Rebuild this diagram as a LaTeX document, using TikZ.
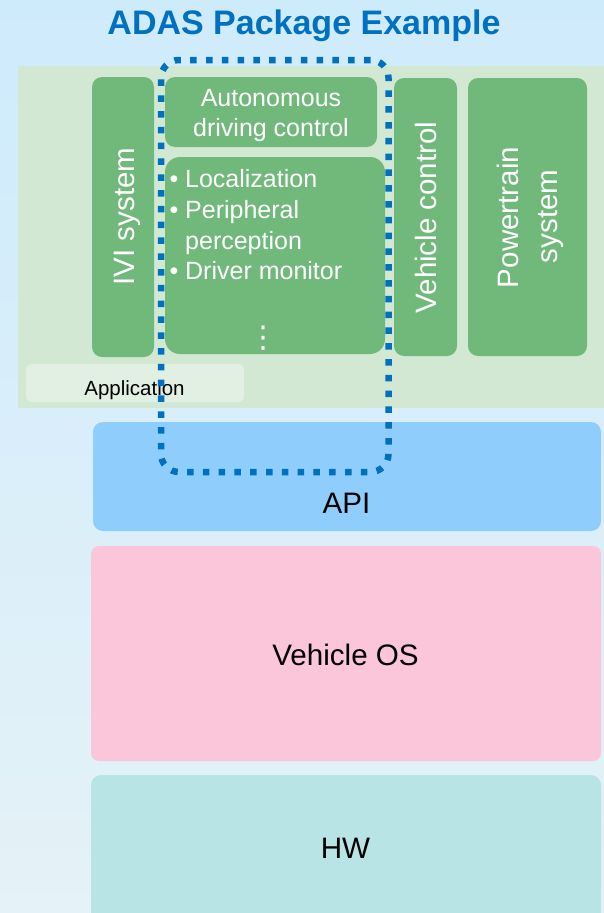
\documentclass[tikz,border=0pt]{standalone}
\usepackage{fontspec}
\setmainfont{Liberation Sans}
\newfontfamily\dejavu{DejaVu Sans}
\definecolor{bgtop}{RGB}{206,235,252}
\definecolor{bgbot}{RGB}{229,242,247}
\definecolor{appbg}{RGB}{210,232,211}
\definecolor{appgreen}{RGB}{112,185,123}
\definecolor{applabel}{RGB}{225,240,227}
\definecolor{apiblue}{RGB}{143,206,252}
\definecolor{ospink}{RGB}{251,198,218}
\definecolor{hwcyan}{RGB}{184,228,229}
\definecolor{adasblue}{RGB}{0,112,192}
\begin{document}
\begin{tikzpicture}[x=1pt,y=-1pt,
  box/.style={rectangle, draw=none, inner sep=0pt, outer sep=0pt},
  greenbox/.style={box, fill=appgreen, rounded corners=10pt},
  layerbox/.style={box, rounded corners=10pt},
  whitetxt/.style={text=white, inner sep=0pt, font=\fontsize{25}{30}\selectfont},
  verttxt/.style={text=white, inner sep=0pt, rotate=90, anchor=base, font=\fontsize{29.5}{35}\selectfont},
  layertxt/.style={text=black, inner sep=0pt, anchor=base, font=\fontsize{29.6}{35}\selectfont},
  highlight/.style={box, draw=adasblue, line width=6.5pt, dash pattern=on 6.5pt off 9.3pt, rounded corners=18pt}
]
\clip (0,0) rectangle (604,913);
\shade[top color=bgtop, bottom color=bgbot] (0,0) rectangle (604,913);

% title
\node[inner sep=0pt, anchor=base, text=adasblue, font=\fontsize{34}{40}\selectfont\bfseries] (title) at (304,34) {ADAS Package Example};

% application layer
\node[box, fill=appbg, minimum width=586pt, minimum height=342pt] (app) at (311,237) {};
\node[box, fill=applabel, rounded corners=6pt, minimum width=218pt, minimum height=38pt] (applbl) at (135,383) {};
\node[inner sep=0pt, anchor=base, font=\fontsize{20.5}{24}\selectfont] (apptxt) at (134.5,395) {Application};

% green boxes
\node[greenbox, minimum width=62pt, minimum height=280pt] (ivi) at (123,217) {};
\node[greenbox, minimum width=212pt, minimum height=70pt] (adc) at (271,112) {};
\node[greenbox, rounded corners=15pt, minimum width=220pt, minimum height=197pt] (perc) at (275,255.5) {};
\node[greenbox, minimum width=63pt, minimum height=278pt] (vc) at (425.5,217) {};
\node[greenbox, minimum width=119pt, minimum height=278pt] (pt) at (527.5,217) {};

% texts in green boxes
\node[verttxt] (ivitxt) at (134,216.5) {IVI system};
\node[verttxt] (vctxt) at (436,217.5) {Vehicle control};
\node[verttxt] (pttxt1) at (518,217.5) {Powertrain};
\node[verttxt] (pttxt2) at (557,216.5) {system};

\node[whitetxt, anchor=base] (adc1) at (271,106) {Autonomous};
\node[whitetxt, anchor=base] (adc2) at (271,136) {driving control};

\node[whitetxt, anchor=base west] (l1) at (185,187) {\llap{• }Localization};
\node[whitetxt, anchor=base west] (l2) at (185,218) {\llap{• }Peripheral};
\node[whitetxt, anchor=base west] (l3) at (185,249) {perception};
\node[whitetxt, anchor=base west] (l4) at (185,279) {\llap{• }Driver monitor};
\node[text=white, inner sep=0pt, font=\fontsize{30}{30}\dejavu] (dots) at (263,338) {⋮};

% lower layers
\node[layerbox, fill=apiblue, minimum width=508pt, minimum height=109pt] (api) at (347,476.5) {};
\node[layerbox, fill=ospink, rounded corners=8pt, minimum width=510pt, minimum height=215pt] (os) at (346,653.5) {};
\node[layerbox, fill=hwcyan, minimum width=510pt, minimum height=155pt] (hw) at (346,852.5) {};

\node[layertxt] (apitxt) at (346.5,513) {API};
\node[layertxt] (ostxt) at (345.5,665) {Vehicle OS};
\node[layertxt] (hwtxt) at (345.5,858) {HW};

% ADAS package highlight
\node[highlight, minimum width=227.5pt, minimum height=412pt] (adas) at (274.75,266) {};
\end{tikzpicture}
\end{document}
